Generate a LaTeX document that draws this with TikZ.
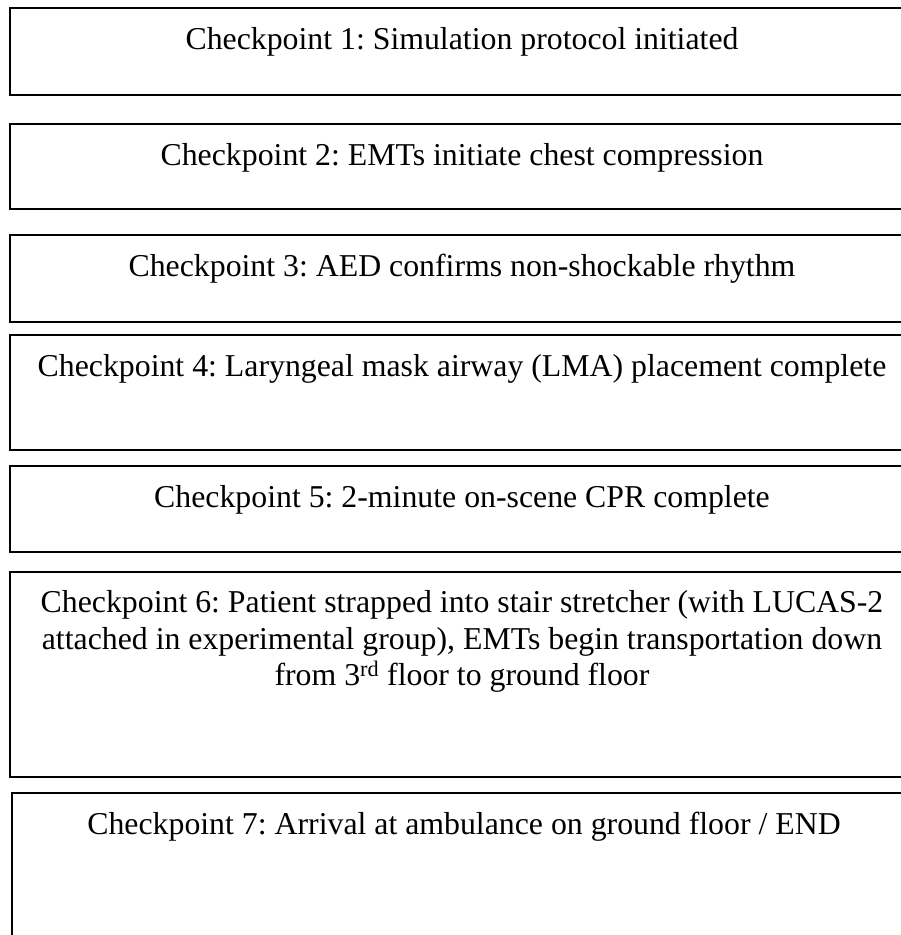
\documentclass[tikz,border=0pt]{standalone}
\usepackage{fontspec}
\setmainfont{Liberation Serif}
\usetikzlibrary{positioning}
\frenchspacing

\begin{document}
\begin{tikzpicture}[
  x=1pt, y=1pt,
  stage/.style={draw=black, line width=1.8pt, minimum width=904pt, inner xsep=0pt,
                inner ysep=0pt, outer sep=0pt, align=center, text height=42pt,
                font=\fontsize{31.8}{36.5}\selectfont}
]
\useasboundingbox (0,0) rectangle (901,935);
\clip (0,0) rectangle (901,935);
\node[stage, text depth=45pt, anchor=north west] (c1) at (10,927) {Checkpoint 1: Simulation protocol initiated};
\node[stage, text depth=43pt, below=29pt of c1] (c2) {Checkpoint 2: EMTs initiate chest compression};
\node[stage, text depth=45pt, below=26pt of c2] (c3) {Checkpoint 3: AED confirms non-shockable rhythm};
\node[stage, text depth=73pt, below=13pt of c3] (c4) {Checkpoint 4: Laryngeal mask airway (LMA) placement complete};
\node[stage, text depth=44pt, below=16pt of c4] (c5) {Checkpoint 5: 2-minute on-scene CPR complete};
\node[stage, text height=114pt, text depth=91pt, below=20pt of c5] (c6) {Checkpoint 6: Patient strapped into stair stretcher (with LUCAS-2\\attached in experimental group), EMTs begin transportation down\\from 3\textsuperscript{rd} floor to ground floor};
\node[stage, text depth=160pt, below=16pt of c6, xshift=2pt] (c7) {Checkpoint 7: Arrival at ambulance on ground floor / END};
\end{tikzpicture}
\end{document}
